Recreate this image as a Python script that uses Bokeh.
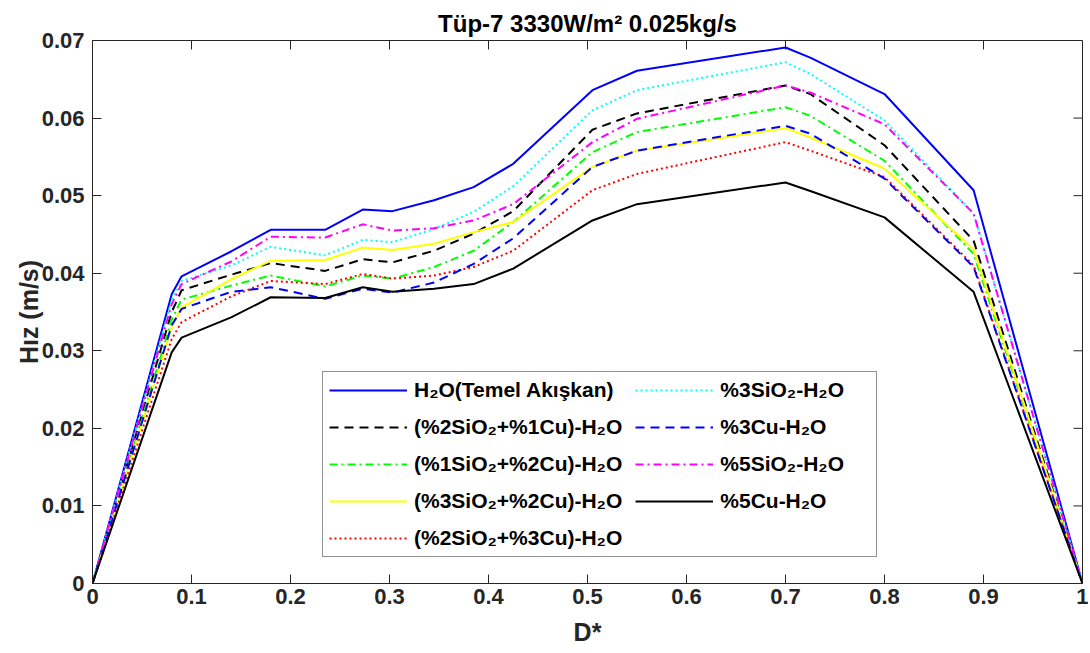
import math
from bokeh.plotting import figure
from bokeh.models import Range1d, FixedTicker, Legend, LegendItem
from bokeh.embed import file_html
from bokeh.resources import INLINE

# ---- data ----
x = [0, 0.08, 0.09, 0.14, 0.18, 0.235, 0.273, 0.303, 0.345, 0.385, 0.425, 0.505, 0.55, 0.70, 0.725, 0.80, 0.89, 1.0]

h2o       = [0, 0.0373, 0.0396, 0.0428, 0.0456, 0.0456, 0.0482, 0.0480, 0.0494, 0.0511, 0.0541, 0.0636, 0.0661, 0.0691, 0.0678, 0.0631, 0.0507, 0]
si2_cu1   = [0, 0.0350, 0.0378, 0.0398, 0.0413, 0.0403, 0.0418, 0.0414, 0.0429, 0.0451, 0.0480, 0.0585, 0.0606, 0.0642, 0.0631, 0.0565, 0.0442, 0]
si1_cu2   = [0, 0.0340, 0.0366, 0.0384, 0.0397, 0.0383, 0.0397, 0.0393, 0.0408, 0.0429, 0.0466, 0.0556, 0.0582, 0.0614, 0.0603, 0.0545, 0.0425, 0]
si3_cu2   = [0, 0.0330, 0.0356, 0.0392, 0.0416, 0.0417, 0.0433, 0.0430, 0.0438, 0.0453, 0.0466, 0.0537, 0.0558, 0.0587, 0.0575, 0.0535, 0.0431, 0]
si2_cu3   = [0, 0.0315, 0.0337, 0.0370, 0.0390, 0.0386, 0.0399, 0.0393, 0.0397, 0.0408, 0.0429, 0.0507, 0.0528, 0.0569, 0.0558, 0.0524, 0.0410, 0]
si3       = [0, 0.0365, 0.0390, 0.0410, 0.0434, 0.0423, 0.0443, 0.0440, 0.0457, 0.0479, 0.0512, 0.0610, 0.0636, 0.0672, 0.0657, 0.0597, 0.0477, 0]
cu3       = [0, 0.0333, 0.0354, 0.0376, 0.0382, 0.0367, 0.0380, 0.0375, 0.0388, 0.0412, 0.0445, 0.0537, 0.0558, 0.0590, 0.0580, 0.0522, 0.0408, 0]
si5       = [0, 0.0360, 0.0386, 0.0415, 0.0447, 0.0446, 0.0463, 0.0455, 0.0458, 0.0468, 0.0489, 0.0569, 0.0599, 0.0642, 0.0633, 0.0592, 0.0477, 0]
cu5       = [0, 0.0298, 0.0317, 0.0343, 0.0369, 0.0368, 0.0382, 0.0376, 0.0380, 0.0386, 0.0406, 0.0468, 0.0489, 0.0517, 0.0506, 0.0472, 0.0376, 0]

labels = [
    "H\u2082O(Temel Ak\u0131\u015fkan)",
    "(%2SiO\u2082+%1Cu)-H\u2082O",
    "(%1SiO\u2082+%2Cu)-H\u2082O",
    "(%3SiO\u2082+%2Cu)-H\u2082O",
    "(%2SiO\u2082+%3Cu)-H\u2082O",
    "%3SiO\u2082-H\u2082O",
    "%3Cu-H\u2082O",
    "%5SiO\u2082-H\u2082O",
    "%5Cu-H\u2082O",
]

x_ticks = [0, 0.1, 0.2, 0.3, 0.4, 0.5, 0.6, 0.7, 0.8, 0.9, 1.0]
x_tick_labels = ["0", "0.1", "0.2", "0.3", "0.4", "0.5", "0.6", "0.7", "0.8", "0.9", "1"]
y_ticks = [0, 0.01, 0.02, 0.03, 0.04, 0.05, 0.06, 0.07]
y_tick_labels = ["0", "0.01", "0.02", "0.03", "0.04", "0.05", "0.06", "0.07"]

series = [h2o, si2_cu1, si1_cu2, si3_cu2, si2_cu3, si3, cu3, si5, cu5]

# ---- styles ----
colors = ["#0000FF", "#000000", "#00FF00", "#FFFF00", "#FF0000", "#00FFFF", "#0000FF", "#FF00FF", "#000000"]
dashes = ["solid", "9 6", "8 4 2 4", "solid", "2 3", "2 3", "9 6", "8 4 2 4", "solid"]

FONT = "Liberation Sans"
AX = "#262626"

p = figure(width=1088, height=650, output_backend="svg", toolbar_location=None,
           x_range=Range1d(0, 1), y_range=Range1d(0, 0.07),
           min_border_left=92, min_border_right=6, min_border_top=40, min_border_bottom=67,
           title="T\u00fcp-7 3330W/m\u00b2 0.025kg/s")

p.title.align = "center"
p.title.text_font = FONT
p.title.text_font_size = "24px"
p.title.text_font_style = "bold"
p.title.text_color = "#000000"
p.title.standoff = 7

p.grid.visible = False
p.outline_line_color = AX
p.outline_line_width = 1
p.background_fill_color = "white"
p.border_fill_color = "white"

for ax, ticks, labs in [(p.xaxis[0], x_ticks, x_tick_labels), (p.yaxis[0], y_ticks, y_tick_labels)]:
    ax.ticker = FixedTicker(ticks=ticks)
    ax.major_label_overrides = {t: l for t, l in zip(ticks, labs)}
    ax.major_label_text_font = FONT
    ax.major_label_text_font_size = "22px"
    ax.major_label_text_font_style = "bold"
    ax.major_label_text_color = AX
    ax.axis_line_color = AX
    ax.major_tick_line_color = AX
    ax.major_tick_in = 9
    ax.major_tick_out = 0
    ax.minor_tick_line_color = None
    ax.axis_label_text_font = FONT
    ax.axis_label_text_font_size = "25px"
    ax.axis_label_text_font_style = "bold"
    ax.axis_label_text_color = AX

p.xaxis[0].axis_label = "D*"
p.xaxis[0].major_label_standoff = 5
p.xaxis[0].axis_label_standoff = 11
p.yaxis[0].axis_label = "H\u0131z (m/s)"
p.yaxis[0].major_label_standoff = 8
p.yaxis[0].axis_label_standoff = -4

# mirrored tick marks on top and right edges (box on)
p.ray(x=x_ticks, y=[0.07] * len(x_ticks), length=9, length_units="screen",
      angle=-math.pi / 2, line_color=AX, line_width=1)
p.ray(x=[1.0] * len(y_ticks), y=y_ticks, length=9, length_units="screen",
      angle=math.pi, line_color=AX, line_width=1)

items = []
for ys, c, d, lab in zip(series, colors, dashes, labels):
    r = p.line(x, ys, line_color=c, line_width=2, line_dash=d)
    items.append(LegendItem(label=lab, renderers=[r]))

legend = Legend(items=items, location=(230, 26), orientation="vertical", nrows=5,
                label_text_font=FONT, label_text_font_size="21px", label_text_font_style="bold",
                label_text_color="#000000", glyph_width=78, glyph_height=20, label_height=20,
                label_width=150, label_standoff=7, spacing=13, padding=6, margin=0,
                border_line_color=AX, border_line_width=1, background_fill_alpha=1)
p.add_layout(legend, "center")

open("out.html", "w").write(file_html(p, INLINE))
